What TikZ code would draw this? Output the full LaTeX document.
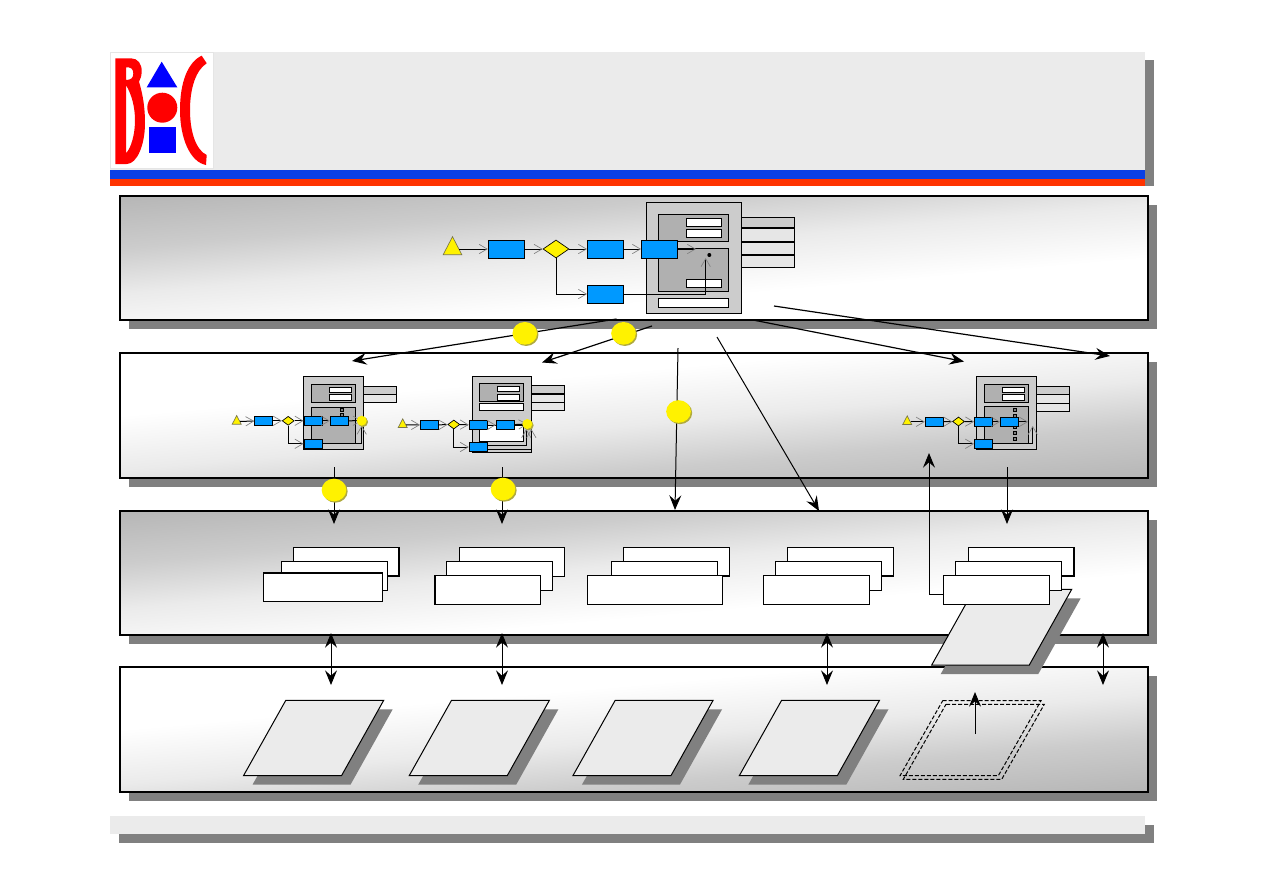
\documentclass[tikz,border=0pt]{standalone}
\usepackage{tikz}
\usetikzlibrary{positioning, calc, arrows.meta, shapes.geometric, shadows}

\definecolor{headgray}{HTML}{EBEBEB}
\definecolor{shadowgray}{HTML}{808080}
\definecolor{traygray}{HTML}{CCCCCC}
\definecolor{slotgray}{HTML}{B0B0B0}
\definecolor{tabgray}{HTML}{E6E6E6}
\definecolor{taskblue}{HTML}{0099FF}
\definecolor{barblue}{HTML}{0A3FE6}
\definecolor{barred}{HTML}{FF3300}
\definecolor{logoblue}{HTML}{0000FF}

\pgfdeclareverticalshading{bandshade}{100bp}{color(0bp)=(white); color(25bp)=(white); color(42bp)=(black!8); color(56bp)=(black!20); color(75bp)=(black!30); color(100bp)=(black!30)}

\tikzset{
    thinline/.style={line width=0.75pt},
    taskbox/.style={draw, thinline, fill=taskblue, inner sep=0pt, minimum width=27pt, minimum height=13.5pt},
    smalltask/.style={taskbox, minimum width=13.5pt, minimum height=6.75pt},
    gateway/.style={diamond, draw, line width=0.5pt, fill=yellow, inner sep=0pt, minimum width=19.5pt, minimum height=13.5pt},
    smallgate/.style={gateway, minimum width=9pt, minimum height=6.75pt},
    startmark/.style={isosceles triangle, isosceles triangle stretches, shape border rotate=90, draw=black!60!yellow, line width=0.5pt, fill=yellow, inner sep=0pt, minimum width=14pt, minimum height=13.5pt},
    smallstart/.style={startmark, minimum width=6.75pt, minimum height=6.5pt},
    flow/.style={thinline, -{Straight Barb[length=6pt,width=7pt,color=gray,line width=0.5pt]}},
    bigarrow/.style={line width=0.9pt, -{Stealth[length=11pt,width=9pt,inset=4pt]}},
    thinarrow/.style={thinline, -{Stealth[length=11pt,width=9pt,inset=4pt]}},
    bothways/.style={thinline, {Stealth[length=11pt,width=9pt,inset=4pt]}-{Stealth[length=11pt,width=9pt,inset=4pt]}},
    marker/.style={ellipse, fill=yellow, inner sep=0pt, minimum width=18.5pt, minimum height=17pt, drop shadow={shadow xshift=1pt, shadow yshift=-1pt, fill=black!35!yellow, opacity=1}},
    endball/.style={marker, minimum width=7.5pt, minimum height=7.5pt, drop shadow={shadow xshift=0.7pt, shadow yshift=-0.7pt, fill=black!35!yellow, opacity=1}},
    tray/.style={draw, thinline, fill=traygray},
    slotpanel/.style={draw, thinline, fill=slotgray},
    slot/.style={draw, thinline, fill=white},
    tabrow/.style={draw, thinline, fill=tabgray},
    stackbox/.style={draw, thinline, fill=white},
    heavyedge/.style={line width=1.4pt},
    sheet/.style={draw, thinline, fill=headgray},
    sheetshadow/.style={fill=shadowgray},
    dashsheet/.style={thinline, dashed, dash pattern=on 3pt off 1.5pt},
}

% band with its shadow; #1 top, #2 bottom, #3 turn of the shade
\newcommand{\bandpanel}[3]{
    \fill[shadowgray] (129,#1+9) rectangle (1157,#2+9);
    \fill[white] (120,#1) rectangle (1148,#2);
    \begin{scope}
        \clip (120,#1) rectangle (1148,#2);
        \begin{scope}[transform canvas={rotate around={#3:(634,{(#1+#2)/2})}}]
            \shade[shading=bandshade] (-100,{(#1+#2)/2-115}) rectangle (1400,{(#1+#2)/2+45});
        \end{scope}
    \end{scope}
    \draw[line width=0.9pt] (120,#1) rectangle (1148,#2);
    \draw[line width=1.8pt] (120,#2) -- (1148,#2);
}

\begin{document}
\begin{tikzpicture}[x=0.75pt, y=-0.75pt]
    \useasboundingbox (0,0) rectangle (1263,893);

    % header
    \fill[shadowgray] (119,60) rectangle (1154,186);
    \fill[headgray] (110,52) rectangle (1145,170);
    \fill[barblue] (110,170) rectangle (1145,179);
    \fill[barred] (110,179) rectangle (1145,186);

    % logo
    \fill[white] (110,52) rectangle (213,168);
    \draw[black!10, thinline] (110,52) rectangle (213,168);
    \fill[red, even odd rule] (115.3,58.3) -- (131,58.3) .. controls (138,58.3) and (142,64) .. (141.7,72)
        .. controls (141.5,76) and (140.5,79) .. (139,81.7) .. controls (143,95) and (145,108) .. (145,123)
        .. controls (145,145) and (137,164) .. (126.7,164) -- (115.3,164) -- cycle
        (126,67.3) .. controls (131,67) and (133.3,69) .. (133.3,73.5) .. controls (133.3,78) and (131,80) .. (126,80) -- cycle
        (126,85) .. controls (132,95) and (135,108) .. (135,120) .. controls (135,135) and (131,148) .. (126,153.3) -- cycle;
    \fill[red] (201.7,55.7) -- (206.7,63.3) .. controls (196,70) and (190,88) .. (190,110)
        .. controls (190,132) and (196,150) .. (206.7,155) -- (206,165)
        .. controls (190,162) and (180,138) .. (180,110) .. controls (180,82) and (188,62) .. (201.7,55.7) -- cycle;
    \fill[logoblue] (161.7,61.7) -- (146.7,87.3) -- (177.3,87.3) -- cycle;
    \fill[red] (162.3,107.7) circle (11.25pt);
    \fill[logoblue] (148.7,126.7) rectangle (175.7,152.7);

    % bands
    \bandpanel{196}{320}{5}
    \bandpanel{353}{478}{185}
    \bandpanel{511}{635}{5}
    \bandpanel{667}{792}{185}

    % footer
    \fill[shadowgray] (119,825) rectangle (1154,843);
    \fill[headgray] (110,816) rectangle (1145,834);

    % top process: tray
    \draw[tray] (646.7,202) rectangle (741.7,313);
    \draw[tray] (741.7,217.3) rectangle (794.3,228);
    \draw[tabrow] (741.7,228) rectangle (794.3,267.3);
    \draw[line width=1.2pt] (741.7,228) -- (794.3,228) (741.7,241.7) -- (794.3,241.7) (741.7,255) -- (794.3,255);
    \draw[slotpanel] (658.3,214.3) rectangle (728.3,241.7);
    \draw[slot] (686.7,218.3) rectangle (721.7,226.7);
    \draw[slot] (686.7,229.3) rectangle (721.7,237.7);
    \draw[slotpanel] (658.3,248.3) rectangle (728.3,291.7);
    \draw[slot] (686.7,279.3) rectangle (721.7,287.7);
    \draw[slot] (658.3,298.3) rectangle (728.3,307.7);

    % top process: flow
    \node[startmark] (start0) at (452.5,249) {};
    \node[taskbox] (task1) at (506.3,249) {};
    \node[gateway] (gate0) at (556,249) {};
    \node[taskbox] (task2) at (605.5,249) {};
    \node[taskbox] (task3) at (659.5,249) {};
    \node[taskbox] (task4) at (605.5,294) {};
    \fill (709.3,255) circle (1.5pt) coordinate (dot0);
    \coordinate (out0) at (696,249);
    \draw[flow] (start0) -- (task1);
    \draw[flow] (task1) -- (gate0);
    \draw[flow] (gate0) -- (task2);
    \draw[flow] (task2) -- (task3);
    \draw[flow, line width=1.2pt] (task3) -- (out0);
    \draw[flow] (gate0.south) |- (task4);
    \draw[flow] (task4.east) -| ($(dot0)+(-3.6,3)$);

    % first subprocess
    \draw[tray] (303.3,376) rectangle (363.3,449.3);
    \draw[tray] (363.3,386) rectangle (396.7,394.3);
    \draw[tabrow] (363.3,394.3) rectangle (396.7,402.3);
    \draw[slotpanel] (311.7,384.3) rectangle (355.7,402.3);
    \draw[slot] (329.3,387.3) rectangle (351,392.3);
    \draw[slot] (329.3,394.3) rectangle (351,400);
    \draw[slotpanel] (311.7,407.3) rectangle (355.7,443);
    \draw[line width=0.5pt, fill=gray] (340.5,408.5) rectangle (343.5,411.5);
    \draw[line width=0.5pt, fill=gray] (340.5,413.5) rectangle (343.5,416.5);
    \node[smallstart] (start1) at (236.7,421.5) {};
    \node[smalltask] (task11) at (263.8,420.8) {};
    \node[smallgate] (gate1) at (288.2,420.8) {};
    \node[smalltask] (task12) at (313,420.8) {};
    \node[smalltask] (task13) at (339.3,420.8) {};
    \node[smalltask] (task14) at (313,443.8) {};
    \coordinate (ball1) at (361.7,420.7);
    \draw[flow] (start1) -- (task11);
    \draw[flow] (task11) -- (gate1);
    \draw[flow] (gate1) -- (task12);
    \draw[flow] (task12) -- (task13);
    \draw[flow] (task13) -- (ball1);
    \draw[flow] (gate1.south) |- (task14);
    \draw[flow, line width=1pt] (task14.east) -| ($(ball1)+(0,5)$);
    \node[endball] (ballnode1) at (ball1) {};

    % second subprocess
    \draw[tray] (472.3,376) rectangle (531.7,452.7);
    \draw[tray] (531.7,385) rectangle (564.3,394);
    \draw[tabrow] (531.7,394) rectangle (564.3,410.7);
    \draw[line width=1.2pt] (531.7,394) -- (564.3,394);
    \draw[thinline] (531.7,402.3) -- (564.3,402.3);
    \draw[slotpanel] (479.3,383.3) rectangle (523.7,401.7);
    \draw[slot] (497.3,386.3) rectangle (519.7,391.7);
    \draw[slot] (497.3,394.3) rectangle (519.7,400);
    \draw[slot] (479.3,403.3) rectangle (523.7,410.7);
    \draw[slot] (479.3,425) rectangle (523.7,441.7);
    \node[smallstart] (start2) at (402.7,424.8) {};
    \node[smalltask] (task21) at (429.5,425) {};
    \node[smallgate] (gate2) at (453.8,424.5) {};
    \node[smalltask] (task22) at (478.3,425) {};
    \node[smalltask] (task23) at (505.3,425) {};
    \node[smalltask] (task24) at (478.3,447) {};
    \coordinate (ball2) at (527.3,424);
    \draw[flow] (start2) -- (task21);
    \draw[flow] (task21) -- (gate2);
    \draw[flow] (gate2) -- (task22);
    \draw[flow] (task22) -- (task23);
    \draw[flow] (task23) -- (ball2);
    \draw[flow] (gate2.south) |- (task24);
    \draw[flow] ($(task24.east)+(0,-1.5)$) -| ($(ball2)+(-1,5)$);
    \draw[flow] ($(task24.east)+(0,2.5)$) -| ($(ball2)+(4,5)$);
    \node[endball] (ballnode2) at (ball2) {};

    % third subprocess
    \draw[tray] (976.7,376) rectangle (1036.7,449.3);
    \draw[tray] (1036.7,386) rectangle (1069.3,394.3);
    \draw[tabrow] (1036.7,394.3) rectangle (1069.3,411.7);
    \draw[thinline] (1036.7,403.3) -- (1069.3,403.3);
    \draw[slotpanel] (984.3,384.3) rectangle (1028.3,402.3);
    \draw[slot] (1002.3,387.3) rectangle (1024.3,392.3);
    \draw[slot] (1002.3,394.3) rectangle (1024.3,400);
    \draw[slotpanel] (984.3,406) rectangle (1028.3,443.3);
    \foreach \ypos in {410,415.7,421,427.3,433.3,439}
        \draw[line width=0.5pt, fill=gray] (1013.5,\ypos-1.5) rectangle (1016.5,\ypos+1.5);
    \node[smallstart] (start3) at (907.2,421.8) {};
    \node[smalltask] (task31) at (934.3,421.8) {};
    \node[smallgate] (gate3) at (958.5,421.5) {};
    \node[smalltask] (task32) at (983.5,421.8) {};
    \node[smalltask] (task33) at (1009.5,421.8) {};
    \node[smalltask] (task34) at (983.5,443.8) {};
    \coordinate (out3) at (1028,421.8);
    \coordinate (up3) at (1032.7,426);
    \draw[flow] (start3) -- (task31);
    \draw[flow] (task31) -- (gate3);
    \draw[flow] (gate3) -- (task32);
    \draw[flow] (task32) -- (task33);
    \draw[flow] (task33) -- (out3);
    \draw[flow] (gate3.south) |- (task34);
    \draw[flow] (task34.east) -| (up3);

    % stacked boxes
    \draw[stackbox] (293.3,547.7) rectangle (399.3,576.3);
    \draw[heavyedge] (399.3,547.7) -- (399.3,576.3) -- (293.3,576.3);
    \draw[stackbox] (281.7,561.7) rectangle (387.7,590.3);
    \draw[stackbox] (263.3,572.7) rectangle (382.7,601.7);
    \draw[heavyedge] (263.3,572.7) -- (382.7,572.7);
    \draw[stackbox] (459.3,547.7) rectangle (564.7,576.3);
    \draw[stackbox] (446.7,561.7) rectangle (552.7,590.3);
    \draw[stackbox] (434.7,575.7) rectangle (540.7,604.3);
    \draw[heavyedge] (434.7,575.7) -- (434.7,604.3);
    \draw[stackbox] (623.5,547.7) rectangle (729.5,576.3);
    \draw[heavyedge] (729.5,547.7) -- (729.5,576.3) -- (623.5,576.3);
    \draw[stackbox] (611.5,561.7) rectangle (717.5,590.3);
    \draw[stackbox] (587.5,575.7) rectangle (722.5,604.3);
    \draw[stackbox] (787,547.7) rectangle (893,576.3);
    \draw[heavyedge] (893,576.3) -- (787,576.3);
    \draw[stackbox] (775,561.7) rectangle (881,590.3);
    \draw[stackbox] (763,575.7) rectangle (869,604.3);

    % sheets
    \foreach \xpos in {243.5,409.2,572.9,739.3} {
        \fill[sheetshadow] (\xpos+51.3,709.3) -- (\xpos+149.2,709.3) -- (\xpos+107,784.7) -- (\xpos+9,784.7) -- cycle;
        \draw[sheet] (\xpos+42.3,700.3) -- (\xpos+140.2,700.3) -- (\xpos+98,775.7) -- (\xpos,775.7) -- cycle;
    }
    \draw[dashsheet] (942.7,700.7) -- (1041,700.7) -- (998.3,775.7) -- (900,775.7) -- cycle;
    \draw[dashsheet] (946,704.3) -- (1044.3,704.3) -- (1001.7,779.3) -- (903.3,779.3) -- cycle;

    % raised sheet with its boxes
    \fill[sheetshadow] (983.1,598.3) -- (1080.7,598.3) -- (1038.3,674) -- (940.7,674) -- cycle;
    \draw[sheet] (974.1,589.3) -- (1071.7,589.3) -- (1029.3,665) -- (931.7,665) -- cycle;
    \draw[stackbox] (968.3,547.3) rectangle (1073.7,575.7);
    \draw[heavyedge] (1073.7,547.3) -- (1073.7,575.7) -- (968.3,575.7);
    \draw[stackbox] (955.3,561.7) rectangle (1061.7,590);
    \draw[stackbox] (943.3,575.7) rectangle (1049.7,604.3);

    % arrow ends
    \coordinate (top1) at (616.5,319);
    \coordinate (sub1) at (352,361);
    \coordinate (top2) at (652,326);
    \coordinate (sub2) at (542,362.5);
    \coordinate (top3) at (678,348);
    \coordinate (mid3) at (675,510);
    \coordinate (top4) at (717,337);
    \coordinate (mid4) at (819,511);
    \coordinate (top5) at (753,320);
    \coordinate (sub5) at (964,361.5);
    \coordinate (top6) at (774,306);
    \coordinate (sub6) at (1110,356);
    \coordinate (low1) at (334,467);
    \coordinate (res1) at (334,524);
    \coordinate (low2) at (502,467);
    \coordinate (res2) at (502,524);
    \coordinate (low3) at (1007,467);
    \coordinate (res3) at (1007,524);
    \coordinate (back5) at (943.3,594.3);
    \coordinate (head5) at (929,453);

    % arrows between bands
    \draw[bigarrow] (top1) -- (sub1);
    \draw[bigarrow] (top2) -- (sub2);
    \draw[thinarrow] (top3) -- (mid3);
    \draw[thinarrow] (top4) -- (mid4);
    \draw[bigarrow] (top5) -- (sub5);
    \draw[bigarrow] (top6) -- (sub6);
    \draw[thinarrow] (low1) -- (res1);
    \draw[thinarrow] (low2) -- (res2);
    \draw[thinarrow] (low3) -- (res3);
    \draw[thinarrow] (back5) -| (head5);

    % double arrows
    \foreach \xpos/\name in {331/a, 502/b, 827/c, 1103/d} {
        \coordinate (up\name) at (\xpos,633);
        \coordinate (dn\name) at (\xpos,685);
        \draw[bothways] (up\name) -- (dn\name);
    }
    \coordinate (sheetlow) at (975,734);
    \coordinate (sheethigh) at (975,692);
    \draw[thinarrow] (sheetlow) -- (sheethigh);

    % markers
    \node[marker] (mark1) at (524.8,333.3) {};
    \node[marker] (mark2) at (623.5,333.3) {};
    \node[marker] (mark3) at (678.5,411.5) {};
    \node[marker] (mark4) at (334,490) {};
    \node[marker] (mark5) at (503,489) {};
\end{tikzpicture}
\end{document}
